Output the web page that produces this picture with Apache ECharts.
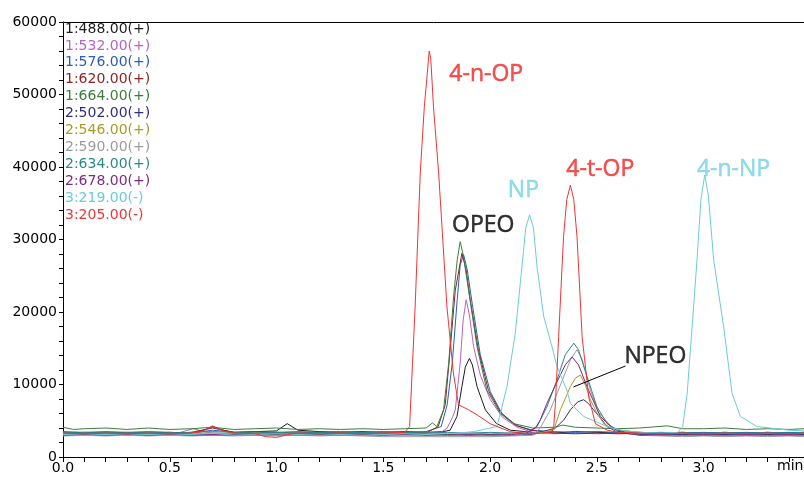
<!DOCTYPE html>
<html>
<head>
<meta charset="utf-8">
<script src="https://cdn.jsdelivr.net/npm/echarts@6/dist/echarts.min.js"></script>
<style>
  html, body { margin: 0; padding: 0; background: #fff; }
  #chart { width: 804px; height: 482px; }
</style>
</head>
<body>
<div id="chart"></div>
<script>
// Extracted-ion chromatograms: [retention time (min), intensity]
const ion1_488 = [[0,3300],[0.1,3400],[0.2,3300],[0.3,3400],[0.4,3300],[0.5,3400],[0.6,3300],[0.65,3600],[0.7,4200],[0.75,3700],[0.8,3400],[0.9,3500],[1.0,3600],[1.05,4600],[1.1,3700],[1.2,3500],[1.3,3400],[1.4,3500],[1.5,3400],[1.6,3500],[1.7,3400],[1.78,3500],[1.813,3700],[1.845,5600],[1.868,9700],[1.884,12400],[1.903,13600],[1.917,12700],[1.939,9700],[1.978,6500],[2.03,4600],[2.095,3700],[2.2,3400],[2.3,3300],[2.4,3500],[2.5,3400],[2.6,3300],[2.7,3400],[2.8,3300],[2.9,3400],[3.0,3300],[3.1,3400],[3.2,3300],[3.3,3400],[3.4,3300],[3.47,3400]];
const ion1_532 = [[0,3200],[0.1,3300],[0.2,3200],[0.3,3300],[0.4,3200],[0.5,3100],[0.55,3400],[0.61,3900],[0.66,3500],[0.7,3300],[0.8,3200],[0.9,3300],[1.0,3200],[1.1,3300],[1.2,3200],[1.3,3300],[1.4,3200],[1.5,3300],[1.6,3200],[1.7,3300],[1.77,3400],[1.799,4000],[1.823,5400],[1.837,6500],[1.86,13000],[1.874,18900],[1.888,21700],[1.903,19600],[1.923,15200],[1.954,11300],[2.001,7900],[2.057,5500],[2.127,4100],[2.2,3400],[2.3,3200],[2.4,3300],[2.5,3200],[2.6,3300],[2.7,3100],[2.8,3200],[2.9,3100],[3.0,3200],[3.1,3100],[3.2,3200],[3.3,3100],[3.4,3200],[3.47,3100]];
const ion1_576 = [[0,3500],[0.1,3400],[0.2,3500],[0.3,3400],[0.4,3500],[0.5,3400],[0.6,3300],[0.7,3700],[0.8,3400],[0.9,3500],[1.0,3400],[1.1,3500],[1.2,3400],[1.3,3500],[1.4,3400],[1.5,3500],[1.6,3400],[1.7,3500],[1.771,4200],[1.799,7200],[1.823,13000],[1.846,21700],[1.86,26500],[1.876,27900],[1.893,25800],[1.917,21000],[1.954,14100],[2.001,9000],[2.057,5900],[2.127,4300],[2.198,3700],[2.3,3500],[2.4,3400],[2.5,3500],[2.6,3400],[2.7,3300],[2.8,3400],[2.9,3300],[3.0,3400],[3.1,3300],[3.2,3400],[3.3,3300],[3.4,3400],[3.47,3300]];
const ion1_620 = [[0,3300],[0.1,3200],[0.2,3400],[0.3,3300],[0.4,3200],[0.5,3300],[0.6,3400],[0.7,4000],[0.8,3400],[0.9,3300],[1.0,3400],[1.1,3300],[1.2,3400],[1.3,3300],[1.4,3200],[1.5,3300],[1.6,3400],[1.7,3300],[1.757,4200],[1.79,7200],[1.813,14800],[1.837,23000],[1.868,28100],[1.888,25800],[1.907,21700],[1.945,14800],[1.992,9200],[2.048,6200],[2.118,4400],[2.188,3700],[2.3,3300],[2.4,3200],[2.5,3300],[2.6,3200],[2.7,3300],[2.8,3200],[2.9,3300],[3.0,3200],[3.1,3300],[3.2,3200],[3.3,3300],[3.4,3200],[3.47,3300]];
const ion1_664 = [[0,4100],[0.05,3800],[0.1,3900],[0.2,4000],[0.3,3800],[0.4,4000],[0.5,3800],[0.6,3900],[0.7,4100],[0.8,3800],[0.9,3900],[1.0,4000],[1.1,3800],[1.2,3900],[1.3,3800],[1.4,3900],[1.5,3800],[1.6,3900],[1.7,4000],[1.73,4700],[1.751,4200],[1.782,6500],[1.806,12900],[1.829,22100],[1.846,27200],[1.86,29700],[1.874,27900],[1.892,24400],[1.939,15200],[1.985,9200],[2.048,6000],[2.095,4900],[2.11,4600],[2.2,4000],[2.3,4100],[2.34,4400],[2.4,4100],[2.5,4000],[2.6,3900],[2.7,4000],[2.83,4300],[2.9,3900],[3.0,3900],[3.1,4000],[3.2,3800],[3.3,3900],[3.4,3800],[3.47,3900]];
const ion2_502 = [[0,3100],[0.1,3000],[0.2,3100],[0.3,3000],[0.4,3100],[0.5,3000],[0.6,3100],[0.7,3000],[0.8,3100],[0.9,3000],[1.0,3100],[1.1,3000],[1.2,3100],[1.3,3000],[1.4,3100],[1.5,3000],[1.6,3100],[1.7,3000],[1.8,3100],[1.9,3000],[2.0,3100],[2.1,3000],[2.2,3100],[2.306,4000],[2.345,5100],[2.376,6500],[2.41,7600],[2.438,7900],[2.46,7400],[2.485,6500],[2.516,5400],[2.548,4200],[2.587,3600],[2.7,3100],[2.8,3000],[2.9,3100],[3.0,3000],[3.1,3100],[3.2,3000],[3.3,3100],[3.4,3000],[3.47,3100]];
const ion2_546 = [[0,3200],[0.1,3300],[0.2,3200],[0.3,3300],[0.4,3200],[0.5,3300],[0.6,3200],[0.7,3300],[0.8,3200],[0.9,3300],[1.0,3200],[1.1,3300],[1.2,3200],[1.3,3300],[1.4,3200],[1.5,3300],[1.6,3200],[1.7,3300],[1.8,3200],[1.9,3300],[2.0,3200],[2.1,3300],[2.2,3200],[2.298,3700],[2.329,6500],[2.376,9700],[2.4,10900],[2.423,11300],[2.446,9900],[2.47,7900],[2.498,6200],[2.532,4600],[2.573,3900],[2.7,3300],[2.8,3200],[2.9,3300],[3.0,3200],[3.1,3300],[3.2,3200],[3.3,3300],[3.4,3200],[3.47,3300]];
const ion2_590 = [[0,2900],[0.1,3000],[0.2,2900],[0.3,3000],[0.4,2900],[0.5,3000],[0.6,2900],[0.7,3000],[0.8,2900],[0.9,3000],[1.0,2900],[1.1,3000],[1.2,2900],[1.3,3000],[1.4,2900],[1.5,2800],[1.6,2800],[1.7,2800],[1.8,2800],[1.9,2800],[2.0,2800],[2.1,2900],[2.2,3000],[2.235,4000],[2.282,6500],[2.329,9900],[2.376,13400],[2.407,14800],[2.432,13400],[2.47,9200],[2.507,6200],[2.564,4300],[2.61,3600],[2.7,3000],[2.8,2900],[2.9,2800],[3.0,2900],[3.1,2800],[3.2,2900],[3.3,2800],[3.4,2900],[3.47,2800]];
const ion2_634 = [[0,3400],[0.1,3300],[0.2,3400],[0.3,3300],[0.4,3400],[0.5,3300],[0.6,3400],[0.7,3500],[0.8,3400],[0.9,3300],[1.0,3400],[1.1,3300],[1.2,3400],[1.3,3300],[1.4,3400],[1.5,3300],[1.6,3400],[1.7,3300],[1.8,3400],[1.9,3300],[2.0,3400],[2.1,3300],[2.18,3500],[2.22,4200],[2.266,6900],[2.313,10600],[2.352,14100],[2.392,15700],[2.414,14800],[2.454,11100],[2.501,6900],[2.548,4600],[2.595,3700],[2.7,3400],[2.8,3300],[2.9,3400],[3.0,3300],[3.1,3400],[3.2,3300],[3.3,3400],[3.4,3300],[3.47,3400]];
const ion2_678 = [[0,3000],[0.1,3100],[0.2,3000],[0.3,3100],[0.4,3000],[0.5,3100],[0.6,3000],[0.7,3100],[0.8,3000],[0.9,3100],[1.0,3000],[1.1,3100],[1.2,3000],[1.3,3100],[1.4,3000],[1.5,3100],[1.6,3000],[1.7,3100],[1.8,3000],[1.9,3100],[2.0,3000],[2.1,3100],[2.17,3300],[2.212,4000],[2.235,5100],[2.266,7400],[2.306,9900],[2.352,12700],[2.384,13800],[2.414,12700],[2.454,9700],[2.516,5600],[2.573,4000],[2.65,3200],[2.7,3000],[2.8,3100],[2.9,3000],[3.0,3100],[3.1,3000],[3.2,3100],[3.3,3000],[3.4,3100],[3.47,3000]];
const ion3_219 = [[0,3100],[0.1,3000],[0.2,3100],[0.3,3000],[0.4,3100],[0.5,3000],[0.6,3100],[0.7,3300],[0.8,3000],[0.9,3100],[1.0,3000],[1.1,3100],[1.2,3000],[1.3,3100],[1.4,3000],[1.5,3100],[1.6,3000],[1.7,3100],[1.845,3300],[1.923,3500],[2.032,4200],[2.048,6000],[2.079,9700],[2.118,17100],[2.149,26200],[2.167,31600],[2.185,33400],[2.203,31600],[2.22,26200],[2.251,19400],[2.29,15200],[2.313,12500],[2.36,9200],[2.376,7400],[2.438,5600],[2.548,4200],[2.61,3700],[2.7,3400],[2.8,3300],[2.88,3400],[2.902,4200],[2.923,8800],[2.946,17900],[2.969,27200],[2.987,35400],[3.005,38900],[3.022,36100],[3.047,27200],[3.094,17900],[3.133,8800],[3.172,5600],[3.25,4200],[3.313,4000],[3.4,3700],[3.47,3600]];
const ion3_205 = [[0,3300],[0.1,3200],[0.2,3300],[0.3,3200],[0.4,3300],[0.5,3200],[0.6,3300],[0.65,3500],[0.7,4300],[0.75,3600],[0.8,3300],[0.9,3200],[0.95,2800],[1.0,2700],[1.05,3100],[1.1,3300],[1.2,3200],[1.3,3300],[1.4,3200],[1.5,3300],[1.6,3400],[1.623,4200],[1.649,20700],[1.673,39200],[1.692,48300],[1.715,56000],[1.722,55000],[1.735,48300],[1.759,39200],[1.798,20700],[1.828,11600],[1.852,7200],[1.9,6500],[1.94,5800],[2.0,4600],[2.05,4000],[2.095,3500],[2.15,3300],[2.2,3200],[2.25,3300],[2.29,3500],[2.298,4200],[2.306,7400],[2.321,16600],[2.344,30400],[2.359,35500],[2.376,37500],[2.392,35500],[2.407,30400],[2.431,16600],[2.462,8300],[2.493,4600],[2.548,3700],[2.6,3400],[2.7,3300],[2.8,3200],[2.9,3300],[3.0,3200],[3.1,3300],[3.2,3200],[3.3,3300],[3.4,3200],[3.47,3300]];

const traceNames  = ['1:488.00(+)','1:532.00(+)','1:576.00(+)','1:620.00(+)','1:664.00(+)','2:502.00(+)','2:546.00(+)','2:590.00(+)','2:634.00(+)','2:678.00(+)','3:219.00(-)','3:205.00(-)'];
const traceData   = [ion1_488, ion1_532, ion1_576, ion1_620, ion1_664, ion2_502, ion2_546, ion2_590, ion2_634, ion2_678, ion3_219, ion3_205];
const traceColors = ['#1e1e1e','#b465c6','#2a5cba','#8e2222','#3c7d3c','#2f2f7a','#aa9a28','#9c9c9c','#2b8888','#7c2a7c','#6ccbd8','#f03434'];

// Compound labels: text, time, intensity (label centre), colour
const peakLabels = ['4-n-OP','NP','4-t-OP','4-n-NP','OPEO','NPEO'];
const peakLabelT = [1.982, 2.156, 2.516, 3.140, 1.968, 2.774];
const peakLabelV = [52700, 36700, 39700, 39700, 31900, 13900];
const peakLabelColors = ['#f02828','#78d2e2','#f02828','#78d2e2','#000000','#000000'];
// Leader from the NPEO label to its peak cluster
const npeoLeader = [[2.634,12550],[2.390,9660]];

const axisFont = 'DejaVu Sans';
const chart = echarts.init(document.getElementById('chart'), null, { renderer: 'canvas' });

const series = traceData.map((d, i) => ({
  name: traceNames[i],
  type: 'line',
  data: d,
  showSymbol: false,
  symbol: 'none',
  smooth: false,
  lineStyle: { color: traceColors[i], width: 1 },
  itemStyle: { color: traceColors[i] },
  emphasis: { disabled: true },
  animation: false
}));

series.push({
  name: 'leader',
  type: 'line',
  data: npeoLeader,
  symbol: 'none',
  lineStyle: { color: '#000', width: 1 },
  animation: false,
  z: 5
});

series.push({
  name: 'labels',
  type: 'scatter',
  symbolSize: 0,
  data: peakLabels.map((n, i) => ({
    name: n,
    value: [peakLabelT[i], peakLabelV[i]],
    label: { color: peakLabelColors[i], textBorderColor: peakLabelColors[i] }
  })),
  label: {
    show: true,
    position: 'inside',
    formatter: p => p.name,
    fontFamily: 'Open Sans',
    fontSize: 23,
    textBorderWidth: 0.5
  },
  emphasis: { disabled: true },
  animation: false,
  z: 6
});

const isMult = (v, step) => Math.abs(v / step - Math.round(v / step)) < 1e-6;

chart.setOption({
  backgroundColor: '#fff',
  animation: false,
  grid: { left: 63, right: 0, top: 22, bottom: 25, containLabel: false },
  legend: {
    orient: 'vertical',
    left: 55,
    top: 17,
    icon: 'none',
    itemWidth: 0,
    itemHeight: 14,
    itemGap: 2.9,
    selectedMode: false,
    data: traceNames.map((n, i) => ({ name: n, textStyle: { color: traceColors[i] } })),
    textStyle: { fontFamily: axisFont, fontSize: 14 }
  },
  xAxis: [{
    type: 'value',
    min: 0,
    max: 3.47,
    interval: 0.1,
    splitLine: { show: false },
    axisLine: { onZero: false, lineStyle: { color: '#000', width: 1 } },
    axisTick: { length: 5, lineStyle: { color: '#000' } },
    axisLabel: {
      color: '#000', fontFamily: axisFont, fontSize: 14, margin: 4,
      showMaxLabel: false,
      formatter: v => isMult(v, 0.5) ? v.toFixed(1) : ''
    }
  }, {
    type: 'value',
    position: 'top',
    min: 0,
    max: 3.47,
    axisLine: { show: true, onZero: false, lineStyle: { color: '#000', width: 1 } },
    axisTick: { show: false },
    axisLabel: { show: false },
    splitLine: { show: false }
  }],
  yAxis: {
    type: 'value',
    min: 0,
    max: 60000,
    interval: 2000,
    splitLine: { show: false },
    axisLine: { show: true, onZero: false, lineStyle: { color: '#000', width: 1 } },
    axisTick: { length: 4, lineStyle: { color: '#000' } },
    axisLabel: {
      color: '#000', fontFamily: axisFont, fontSize: 14, margin: 6,
      formatter: v => isMult(v, 10000) ? String(v) : ''
    }
  },
  graphic: [{
    type: 'text',
    left: 777,
    top: 459,
    style: { text: 'min', font: '14px "DejaVu Sans"', fill: '#000' }
  }],
  series: series
});
</script>
</body>
</html>
